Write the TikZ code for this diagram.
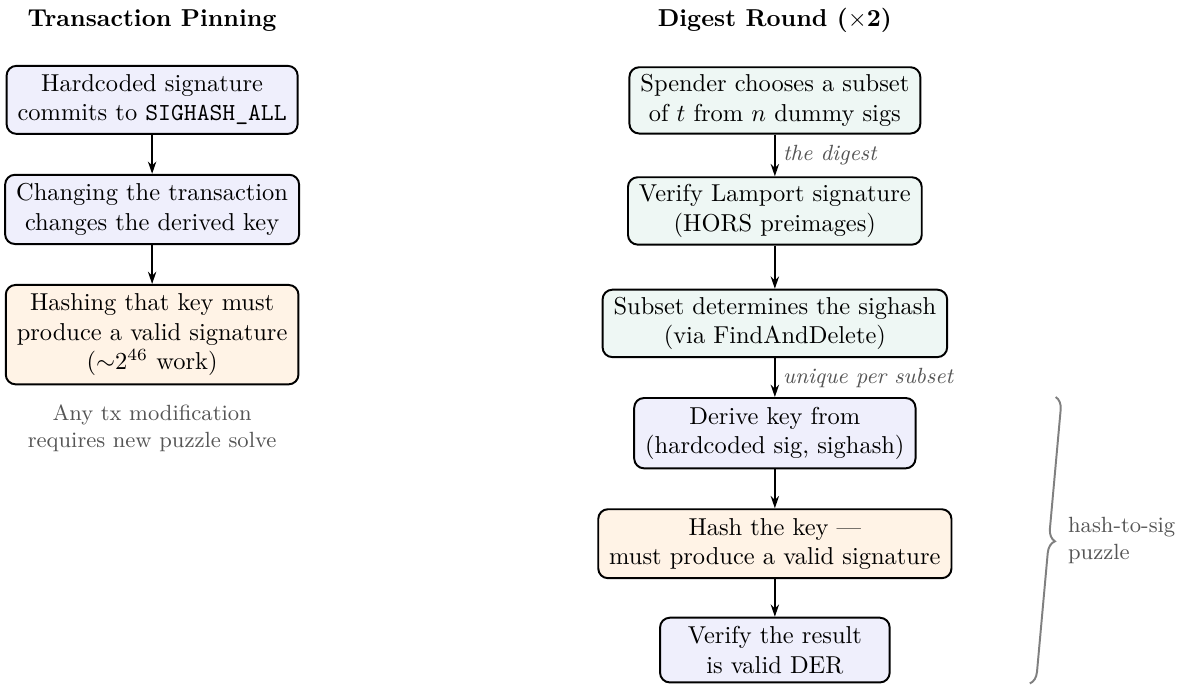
\documentclass[tikz,border=0pt]{standalone}
\usepackage{amsmath}
\usepackage{xcolor}
\usetikzlibrary{positioning,arrows.meta,decorations.pathreplacing}

\definecolor{stepblue}{HTML}{EFEFFC}
\definecolor{stepgreen}{HTML}{EEF7F4}
\definecolor{steporange}{HTML}{FFF3E6}
\definecolor{notegray}{HTML}{555555}

\tikzset{
  colhead/.style={font=\bfseries},
  stepbox/.style={draw=black, thick, rounded corners=4pt, align=center, inner xsep=4.5pt, inner ysep=3.6pt, minimum width=3.3cm},
  bluebox/.style={stepbox, fill=stepblue},
  greenbox/.style={stepbox, fill=stepgreen, inner ysep=3pt},
  orangebox/.style={stepbox, fill=steporange},
  flow/.style={thick, -{Stealth[length=5pt,width=3.4pt]}},
  flowlabel/.style={font=\small\itshape, text=notegray, right, inner sep=3pt},
  note/.style={font=\small, text=notegray, align=center}
}

\begin{document}
\begin{tikzpicture}[node distance=0.56cm]
  \node (ltitle) [colhead] at (0,0) {Transaction Pinning};
  \node (rtitle) [colhead] at (8.95,0) {Digest Round ($\times$2)};

  \node (pin1) [bluebox, below=0.36cm of ltitle] {Hardcoded signature\\commits to \texttt{SIGHASH\_ALL}};
  \node (pin2) [bluebox, below=of pin1] {Changing the transaction\\changes the derived key};
  \node (pin3) [orangebox, below=of pin2] {Hashing that key must\\produce a valid signature\\(${\sim}2^{46}$ work)};
  \node (pinnote) [note, below=0.15cm of pin3] {Any tx modification\\requires new puzzle solve};

  \node (dig1) [greenbox, below=0.36cm of rtitle] {Spender chooses a subset\\of $t$ from $n$ dummy sigs};
  \node (dig2) [greenbox, below=0.6cm of dig1] {Verify Lamport signature\\(HORS preimages)};
  \node (dig3) [greenbox, below=0.62cm of dig2] {Subset determines the sighash\\(via FindAndDelete)};
  \node (dig4) [bluebox, below=0.56cm of dig3] {Derive key from\\(hardcoded sig, sighash)};
  \node (dig5) [orangebox, below=of dig4] {Hash the key ---\\must produce a valid signature};
  \node (dig6) [bluebox, below=0.54cm of dig5] {Verify the result\\is valid DER};

  \draw [flow] (pin1) -- (pin2);
  \draw [flow] (pin2) -- (pin3);

  \draw [flow] (dig1) -- node [flowlabel] {the digest} (dig2);
  \draw [flow] (dig2) -- (dig3);
  \draw [flow] (dig3) -- node [flowlabel] {unique per subset} (dig4);
  \draw [flow] (dig4) -- (dig5);
  \draw [flow] (dig5) -- (dig6);

  \draw [thick, draw=gray, decorate, decoration={brace, amplitude=5pt}]
    ([xshift=2cm]dig4.north east) -- node [midway, anchor=west, xshift=10pt, note, align=left, inner xsep=0pt] {hash-to-sig\\puzzle} ([xshift=2cm]dig6.south east);

  \useasboundingbox ([xshift=-1.7pt]pin2.west |- ltitle.north) rectangle ++(16.93cm,-9.83cm);
\end{tikzpicture}
\end{document}
